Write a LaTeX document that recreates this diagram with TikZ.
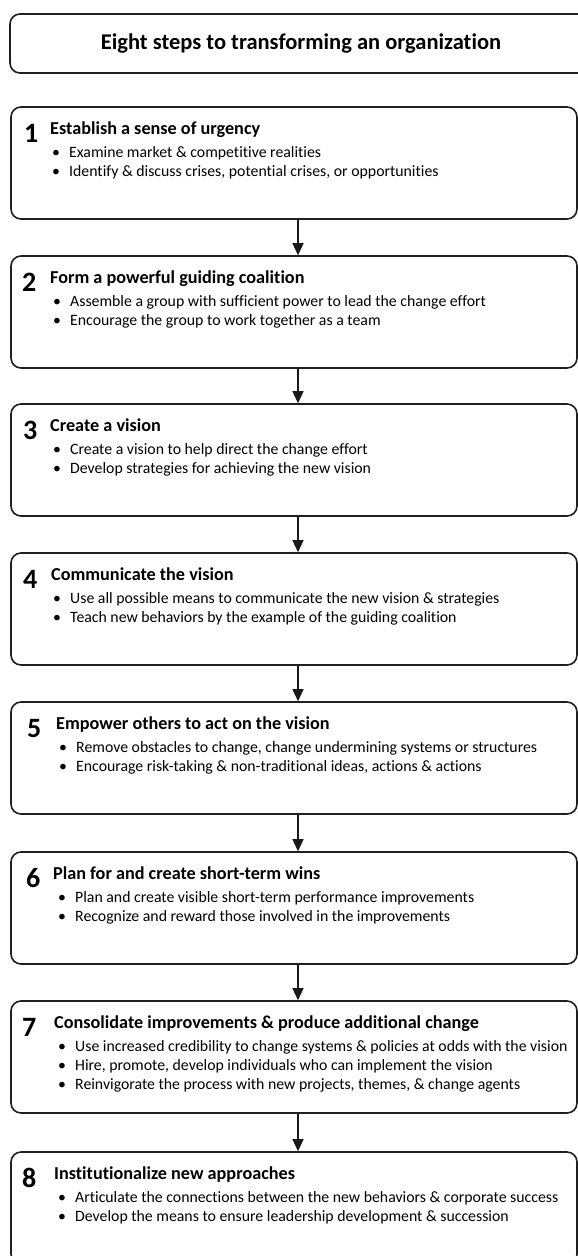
\documentclass[tikz,border=0pt]{standalone}
\usepackage{fontspec}
\setmainfont[Ligatures=NoCommon]{Carlito}
\usetikzlibrary{arrows.meta}
\tikzset{>={Triangle[width=11pt,length=12pt]}}
\tikzset{
  stepbox/.style={draw=black!88, line width=1.6pt, rounded corners=10pt,
    minimum width=566pt, minimum height=112pt, inner sep=0pt},
  titlebox/.style={draw=black!88, line width=1.6pt, rounded corners=10pt,
    minimum width=590pt, minimum height=59pt, inner sep=0pt},
  titletext/.style={inner sep=0pt, font=\fontsize{22.5}{26}\selectfont\bfseries},
  stepnum/.style={anchor=base west, inner sep=0pt, font=\fontsize{28}{31}\selectfont\bfseries},
  stephead/.style={anchor=base west, inner sep=0pt, font=\fontsize{18.2}{21}\selectfont\bfseries},
  stepitem/.style={anchor=base west, inner sep=0pt, font=\fontsize{15.8}{19}\selectfont},
  flow/.style={->, line width=1.3pt, black!90}
}
\newcommand{\itm}[1]{\makebox[17pt][l]{\textbullet}#1}

\begin{document}
\begin{tikzpicture}[x=1pt, y=-1pt]

\useasboundingbox (0,0) rectangle (578,1256);
\clip (0,0) rectangle (578,1256);

\node[titlebox] (tbox) at (305,43.5) {};
\node[titletext] (title) at (301,43.5) {Eight steps to transforming an organization};

\node[stepbox] (s1) at (294,163) {};
\node[stepbox] (s2) at (294,312) {};
\node[stepbox] (s3) at (294,460) {};
\node[stepbox] (s4) at (294,609) {};
\node[stepbox] (s5) at (294,758) {};
\node[stepbox] (s6) at (294,908) {};
\node[stepbox] (s7) at (294,1057) {};
\node[stepbox] (s8) at (294,1208) {};

\draw[flow] ([xshift=4pt]s1.south) -- ([xshift=4pt]s2.north);
\draw[flow] ([xshift=4pt]s2.south) -- ([xshift=4pt]s3.north);
\draw[flow] ([xshift=4pt]s3.south) -- ([xshift=4pt]s4.north);
\draw[flow] ([xshift=4pt]s4.south) -- ([xshift=4pt]s5.north);
\draw[flow] ([xshift=4pt]s5.south) -- ([xshift=4pt]s6.north);
\draw[flow] ([xshift=4pt]s6.south) -- ([xshift=4pt]s7.north);
\draw[flow] ([xshift=4pt]s7.south) -- ([xshift=4pt]s8.north);

\node[stepnum] (n1) at (24,142) {1};
\node[stephead] (h1) at (50,134) {Establish a sense of urgency};
\node[stepitem] (i1a) at (52,157) {\itm{Examine market \& competitive realities}};
\node[stepitem] (i1b) at (52,176) {\itm{Identify \& discuss crises, potential crises, or opportunities}};

\node[stepnum] (n2) at (22,291) {2};
\node[stephead] (h2) at (50,283) {Form a powerful guiding coalition};
\node[stepitem] (i2a) at (53,306) {\itm{Assemble a group with sufficient power to lead the change effort}};
\node[stepitem] (i2b) at (53,325) {\itm{Encourage the group to work together as a team}};

\node[stepnum] (n3) at (23,439) {3};
\node[stephead] (h3) at (50,431) {Create a vision};
\node[stepitem] (i3a) at (53,454) {\itm{Create a vision to help direct the change effort}};
\node[stepitem] (i3b) at (53,473) {\itm{Develop strategies for achieving the new vision}};

\node[stepnum] (n4) at (23,588) {4};
\node[stephead] (h4) at (51,580) {Communicate the vision};
\node[stepitem] (i4a) at (53,603) {\itm{Use all possible means to communicate the new vision \& strategies}};
\node[stepitem] (i4b) at (53,622) {\itm{Teach new behaviors by the example of the guiding coalition}};

\node[stepnum] (n5) at (27,737) {5};
\node[stephead] (h5) at (56,729) {Empower others to act on the vision};
\node[stepitem] (i5a) at (59,752) {\itm{Remove obstacles to change, change undermining systems or structures}};
\node[stepitem] (i5b) at (59,771) {\itm{Encourage risk-taking \& non-traditional ideas, actions \& actions}};

\node[stepnum] (n6) at (26,887) {6};
\node[stephead] (h6) at (53,879) {Plan for and create short-term wins};
\node[stepitem] (i6a) at (58,902) {\itm{Plan and create visible short-term performance improvements}};
\node[stepitem] (i6b) at (58,921) {\itm{Recognize and reward those involved in the improvements}};

\node[stepnum] (n7) at (22,1036) {7};
\node[stephead] (h7) at (54,1028) {Consolidate improvements \& produce additional change};
\node[stepitem] (i7a) at (58,1051) {\itm{Use increased credibility to change systems \& policies at odds with the vision}};
\node[stepitem] (i7b) at (58,1070) {\itm{Hire, promote, develop individuals who can implement the vision}};
\node[stepitem] (i7c) at (58,1089) {\itm{Reinvigorate the process with new projects, themes, \& change agents}};

\node[stepnum] (n8) at (22,1187) {8};
\node[stephead] (h8) at (54,1179) {Institutionalize new approaches};
\node[stepitem] (i8a) at (58,1202) {\itm{Articulate the connections between the new behaviors \& corporate success}};
\node[stepitem] (i8b) at (58,1221) {\itm{Develop the means to ensure leadership development \& succession}};

\end{tikzpicture}
\end{document}
